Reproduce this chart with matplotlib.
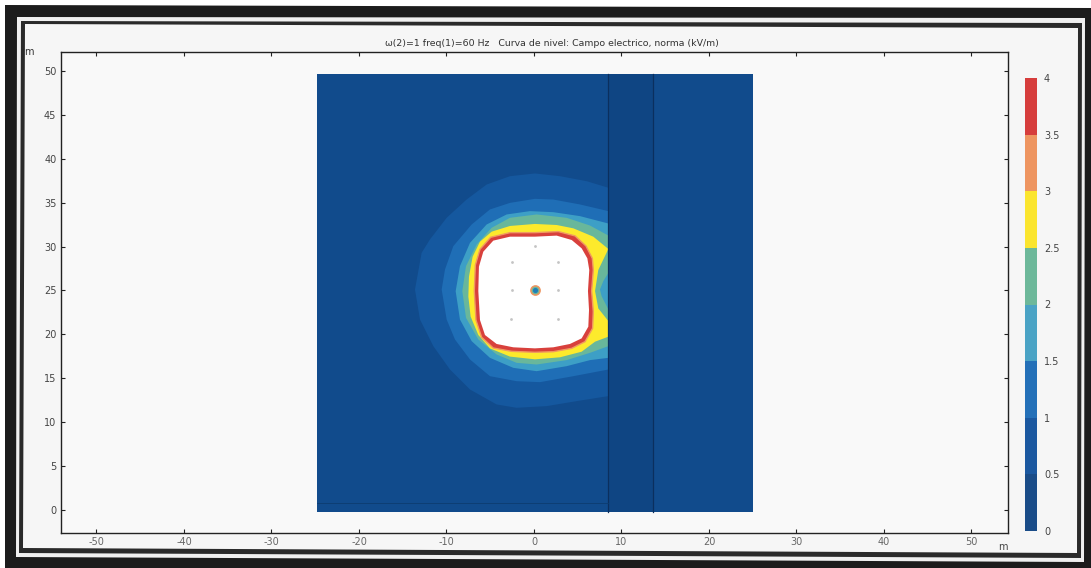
"""Electric field contour plot from a scanned COMSOL figure."""

import matplotlib

matplotlib.use("Agg")
import matplotlib.pyplot as plt
from matplotlib.colors import BoundaryNorm, ListedColormap
from matplotlib.patches import Polygon
import numpy as np

plt.rcParams["axes.unicode_minus"] = False

W, H = 1091, 568

title = "ω(2)=1 freq(1)=60 Hz   Curva de nivel: Campo electrico, norma (kV/m)"
xticks = [-50, -40, -30, -20, -10, 0, 10, 20, 30, 40, 50]
yticks = [0, 5, 10, 15, 20, 25, 30, 35, 40, 45, 50]
cbar_levels = [0, 0.5, 1, 1.5, 2, 2.5, 3, 3.5, 4]
cbar_labels = ["0", "0.5", "1", "1.5", "2", "2.5", "3", "3.5", "4"]
cbar_colors = ["#1a4c88", "#1b58a0", "#2470b8", "#4aa3c5", "#6db89a", "#fbe52e", "#ee9560", "#d63d3c"]

domain_x = [-24.8, 25.0]
domain_y = [-0.2, 49.7]
wall_x = [8.5, 13.6]

band05_x = [8.5, 6.02, 2.97, 0.11, -2.74, -5.41, -7.7, -9.98, -11.89, -12.84, -13.6, -13.03, -11.5, -9.6, -7.31, -4.27, -1.98, 1.45, 4.88, 8.5]
band05_y = [36.7, 37.45, 38.02, 38.33, 38.02, 37.07, 35.36, 33.28, 30.81, 29.29, 25.11, 21.7, 18.66, 16.0, 13.72, 12.02, 11.64, 11.83, 12.4, 12.97]
band10_x = [8.5, 5.26, 2.21, 0.11, -2.74, -5.03, -7.12, -9.22, -10.17, -10.55, -9.98, -9.03, -7.31, -5.03, -1.98, 0.69, 4.5, 8.5]
band10_y = [34.04, 34.8, 35.36, 35.44, 34.98, 34.23, 32.52, 30.05, 27.39, 25.11, 21.7, 19.42, 17.14, 15.24, 14.67, 14.56, 15.24, 16.0]
band15_x = [8.5, 5.26, 2.21, -0.46, -3.12, -5.41, -7.31, -8.46, -8.95, -8.46, -7.12, -5.03, -2.36, 0.3, 3.73, 6.4, 8.5]
band15_y = [32.63, 33.47, 33.92, 34.04, 33.66, 32.52, 30.43, 27.77, 24.92, 21.7, 19.23, 17.33, 16.19, 15.81, 16.38, 17.07, 17.33]
band20_x = [8.5, 6.4, 3.73, 0.3, -2.74, -4.84, -6.55, -7.77, -8.19, -7.77, -6.36, -4.27, -1.98, 0.3, 3.73, 6.4, 8.5, 8.5, 7.73, 7.54, 7.92, 8.5]
band20_y = [31.26, 32.4, 33.28, 33.66, 33.28, 32.14, 30.24, 27.77, 24.92, 21.89, 19.42, 17.71, 16.76, 16.57, 17.07, 17.9, 18.66, 22.84, 24.35, 25.11, 26.06, 27.01]
band25_x = [8.5, 6.78, 4.5, 2.59, 0.11, -2.74, -4.84, -6.17, -7.01, -7.43, -7.5, -7.24, -6.36, -5.03, -2.74, 0.11, 2.97, 5.45, 6.98, 8.5, 8.5, 7.35, 6.98, 7.35]
band25_y = [29.73, 31.13, 32.08, 32.46, 32.58, 32.35, 31.7, 30.56, 28.85, 26.58, 24.3, 22.03, 19.93, 18.41, 17.47, 17.16, 17.39, 18.03, 19.17, 19.74, 21.52, 22.96, 24.94, 27.33]
band35_x = [0.11, 2.78, 4.69, 5.94, 6.67, 6.78, 6.59, 6.78, 6.7, 5.83, 4.31, 2.21, 0.11, -2.55, -4.65, -5.98, -6.63, -6.82, -6.7, -6.17, -4.95, -2.74]
band35_y = [31.59, 31.71, 31.22, 30.07, 28.66, 27.33, 24.94, 22.59, 20.69, 19.17, 18.41, 18.03, 17.96, 18.07, 18.45, 19.67, 21.64, 24.94, 27.9, 29.69, 31.06, 31.59]
over_x = [0.11, 2.59, 4.31, 5.45, 6.1, 6.32, 6.17, 6.29, 6.21, 5.45, 4.11, 2.21, 0.11, -2.36, -4.27, -5.6, -6.17, -6.36, -6.29, -5.79, -4.65, -2.74]
over_y = [31.13, 31.25, 30.75, 29.8, 28.66, 27.33, 24.94, 22.78, 20.88, 19.55, 18.91, 18.53, 18.41, 18.53, 18.91, 19.93, 21.64, 24.94, 27.71, 29.42, 30.68, 31.13]

# small grey specks left around the conductor
dots_x = [0.11, -2.55, 2.8, -2.55, 2.8, -2.6, 2.8]
dots_y = [30.05, 28.3, 28.3, 25.0, 25.0, 21.8, 21.8]
center_x = [0.1]
center_y = [25.0]


def px_axes(fig, left, top, right, bottom):
    return fig.add_axes([left / W, 1 - bottom / H, (right - left) / W, (bottom - top) / H])


# scan frame, slightly tilted, corners in figure pixels
def frame(fig, corners, color, zorder):
    points = [(x / W, 1 - y / H) for x, y in corners]
    fig.add_artist(Polygon(points, closed=True, transform=fig.transFigure, facecolor=color, edgecolor="none", zorder=zorder))


fig = plt.figure(figsize=(W / 100, H / 100), dpi=100, facecolor="white")
frame(fig, [(5, 5), (1091, 8), (1091, 568), (5, 568)], "#1c1c1c", -6)
frame(fig, [(17, 17), (1085, 18), (1084, 562), (16, 557)], "#f0f0f0", -5)
frame(fig, [(21, 21), (1082, 23), (1081, 558), (19, 553)], "#2a2a2a", -4)
frame(fig, [(25, 24), (1078, 28), (1077, 553), (23, 548)], "#f6f6f6", -3)

ax = px_axes(fig, 60.5, 51.5, 1008.5, 533)
ax.set_facecolor("#f9f9f9")
ax.set_xlim(-54.11, 54.23)
ax.set_ylim(-2.62, 52.22)

ax.fill([domain_x[0], domain_x[1], domain_x[1], domain_x[0]], [domain_y[0], domain_y[0], domain_y[1], domain_y[1]], color="#114b8c", lw=0)
ax.fill(band05_x, band05_y, color="#15589f", lw=0, zorder=2)
ax.fill(band10_x, band10_y, color="#1f6eb6", lw=0, zorder=3)
ax.fill(band15_x, band15_y, color="#3d9fc6", lw=0, zorder=4)
ax.fill(band20_x, band20_y, color="#69b79b", lw=0, zorder=5)
ax.fill(band25_x, band25_y, color="#fdea2c", lw=0, zorder=6)
ax.fill(band35_x, band35_y, facecolor="#d8403c", edgecolor="#f09a60", lw=1.0, zorder=7)
ax.fill(over_x, over_y, color="white", lw=0, zorder=8)
ax.fill([wall_x[0], wall_x[1], wall_x[1], wall_x[0]], [domain_y[0], domain_y[0], domain_y[1], domain_y[1]], color="#0f4583", lw=0, zorder=9)
ax.plot([wall_x[0], wall_x[0]], domain_y, color="#0b2f5e", lw=0.9, zorder=10)
ax.plot([wall_x[1], wall_x[1]], domain_y, color="#0b2f5e", lw=0.9, zorder=10)
ax.plot([domain_x[0], wall_x[0]], [0.8, 0.8], color="#0d3c70", lw=0.6, zorder=10)

ax.scatter(dots_x, dots_y, s=4, color="#c4c4c4", lw=0, zorder=11)
ax.scatter(center_x, center_y, s=60, color="#ee9560", lw=0, zorder=11)
ax.scatter(center_x, center_y, s=30, color="#6db89a", lw=0, zorder=12)
ax.scatter(center_x, center_y, s=14, color="#1f7fb8", lw=0, zorder=13)

ax.set_xticks(xticks)
ax.set_yticks(yticks)
ax.tick_params(axis="both", which="major", direction="in", length=3, width=0.8, color="#222222",
               labelsize=7, labelcolor="#666666", top=True, right=True, pad=3)
ax.tick_params(axis="y", labelcolor="#444444")
for spine in ax.spines.values():
    spine.set_linewidth(1.0)
    spine.set_color("#222222")

fig.text(552 / W, 1 - 43 / H, title, ha="center", va="center", fontsize=6.75, color="#333333")
fig.text(29 / W, 1 - 52 / H, "m", ha="center", va="center", fontsize=7, color="#333333")
fig.text(1003 / W, 1 - 547 / H, "m", ha="center", va="center", fontsize=7, color="#444444")

cax = px_axes(fig, 1025, 78, 1037, 531)
levels = np.array(cbar_levels)
cax.pcolormesh([0, 1], levels, levels[:-1].reshape(-1, 1) + 0.25,
               cmap=ListedColormap(cbar_colors), norm=BoundaryNorm(levels, len(cbar_colors)))
cax.set_xticks([])
cax.yaxis.tick_right()
cax.set_yticks(cbar_levels)
cax.set_yticklabels(cbar_labels)
cax.tick_params(axis="y", length=0, labelsize=7, labelcolor="#444444", pad=5)
for spine in cax.spines.values():
    spine.set_visible(False)

fig.savefig("out.png", dpi=100, facecolor=fig.get_facecolor())
